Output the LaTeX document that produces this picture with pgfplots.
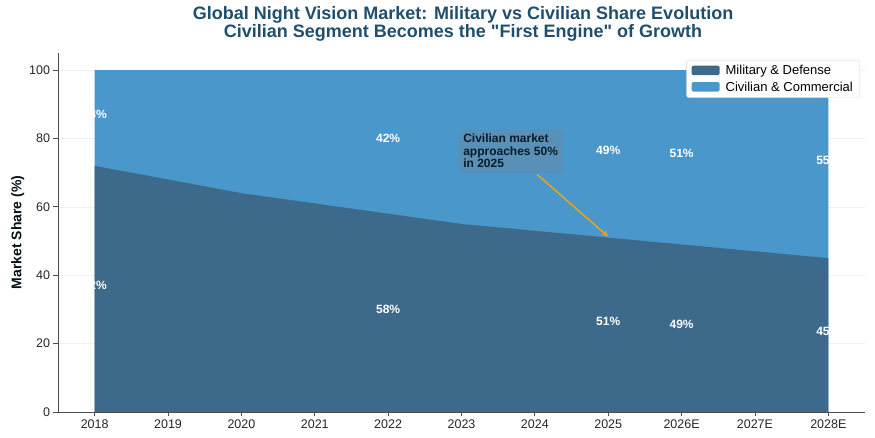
\documentclass[border=0pt]{standalone}
\usepackage{pgfplots}
\pgfplotsset{compat=1.18}
\usepackage{fontspec}
\setmainfont{Liberation Sans}
\newfontfamily\tfont{Liberation Sans}[Ligatures=TeXOff]
\usetikzlibrary{arrows.meta}
\definecolor{mil}{HTML}{3D6A8A}
\definecolor{civ}{HTML}{4A97CC}
\definecolor{ttl}{HTML}{1F4E6E}
\definecolor{arr}{HTML}{E8A020}
\tikzset{pl/.style={font=\bfseries\fontsize{12}{14}\selectfont, text=white}}
\begin{document}
\begin{tikzpicture}[x=1pt,y=1pt]
\useasboundingbox (0,0) rectangle (875,438);
\node[font=\tfont\bfseries\fontsize{18}{18.5}\selectfont, text=ttl, align=center] at (463,414) {Global Night Vision Market: Military vs Civilian Share Evolution\\Civilian Segment Becomes the "First Engine" of Growth};
\begin{axis}[
  at={(58pt,26pt)}, anchor=south west,
  scale only axis, width=807pt, height=359pt,
  xmin=-0.5, xmax=10.5, ymin=0, ymax=105,
  axis lines*=left,
  axis line style={draw=black!70, line width=0.9pt},
  xtick={0,...,10},
  xticklabels={2018,2019,2020,2021,2022,2023,2024,2025,2026E,2027E,2028E},
  ytick={0,20,40,60,80,100},
  tick align=outside, tick pos=left,
  major tick length=4.5pt,
  tick style={black!70, line width=0.9pt},
  ymajorgrids, grid style={gray!12, line width=0.7pt},
  ticklabel style={font=\fontsize{12.5}{14}\selectfont, text=black!85},
  /pgf/number format/assume math mode=true,
  ylabel={\bfseries Market Share (\%)},
  ylabel style={font=\fontsize{14}{16}\selectfont, text=black!80!ttl, yshift=-2pt},
  legend style={at={(0.9938,0.9805)}, anchor=north east, font=\fontsize{13}{15}\selectfont, draw=black!15, fill=white, inner xsep=5pt, inner ysep=3pt, row sep=1.5pt, column sep=4pt, rounded corners=2pt},
  legend cell align=left,
  reverse legend,
  legend image code/.code={\fill[#1] (0pt,-4.5pt) rectangle (28pt,5pt);},
]
\addplot[fill=civ, draw=none] coordinates {(0,100) (1,100) (2,100) (3,100) (4,100) (5,100) (6,100) (7,100) (8,100) (9,100) (10,100)} \closedcycle;
\addplot[fill=mil, draw=none] coordinates {(0,72) (1,68) (2,64) (3,61) (4,58) (5,55) (6,53) (7,51) (8,49) (9,47) (10,45)} \closedcycle;
\legend{Civilian \& Commercial, Military \& Defense}
\coordinate (c0) at (axis cs:0,0);
\coordinate (c1) at (axis cs:10,100);
\coordinate (a0) at (axis cs:6.03,69.5);
\coordinate (a1) at (axis cs:7,51.3);
\coordinate (bx) at (axis cs:5.67,76.3);
\coordinate (p1) at (axis cs:0,87);
\coordinate (p2) at (axis cs:0,37);
\coordinate (p3) at (axis cs:4,80);
\coordinate (p4) at (axis cs:4,30);
\coordinate (p5) at (axis cs:7,76.5);
\coordinate (p6) at (axis cs:7,26.5);
\coordinate (p7) at (axis cs:8,75.5);
\coordinate (p8) at (axis cs:8,25.5);
\coordinate (p9) at (axis cs:10,73.5);
\coordinate (p10) at (axis cs:10,23.5);
\end{axis}
\begin{scope}
\clip (c0) rectangle (c1);
\node[pl] at (p1) {28\%};
\node[pl] at (p2) {72\%};
\node[pl] at (p3) {42\%};
\node[pl] at (p4) {58\%};
\node[pl] at (p5) {49\%};
\node[pl] at (p6) {51\%};
\node[pl] at (p7) {51\%};
\node[pl] at (p8) {49\%};
\node[pl] at (p9) {55\%};
\node[pl] at (p10) {45\%};
\end{scope}
\draw[arr, line width=1.6pt, -{Stealth[length=7pt,width=6pt]}] (a0) -- (a1);
\node[fill=gray!50!civ, fill opacity=0.55, text opacity=1, draw=gray!40!civ, rounded corners=3pt, align=left, font=\bfseries\fontsize{12}{12.5}\selectfont, text=black!65!ttl, inner xsep=4pt, inner ysep=4pt] at (bx) {Civilian market\\approaches 50\%\\in 2025};
\end{tikzpicture}
\end{document}
